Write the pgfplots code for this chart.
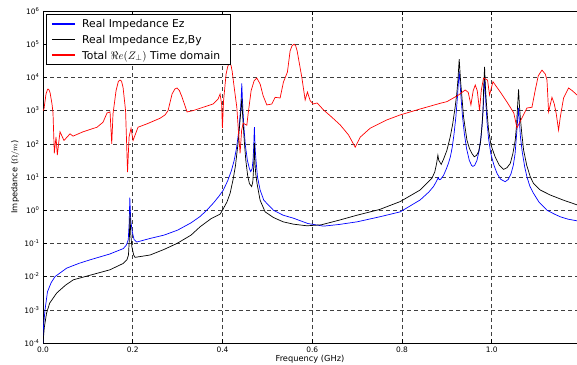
\documentclass[border=0pt]{standalone}
\usepackage{fontspec}
\setmainfont{DejaVu Sans}
\usepackage{pgfplots}
\pgfplotsset{compat=1.18}
\definecolor{lgblue}{RGB}{0,0,255}
\begin{document}
\begin{tikzpicture}
\begin{axis}[
  scale only axis, width=534bp, height=332bp,
  xmin=0, xmax=1.19, ymin=1e-4, ymax=1e6,
  ymode=log, log basis y=10,
  ytickten={-4,-3,...,6},
  yticklabel={10\textsuperscript{\pgfmathparse{int(round(\tick))}\pgfmathresult}},
  xtick={0,0.2,0.4,0.6,0.8,1.0},
  xticklabels={0.0,0.2,0.4,0.6,0.8,1.0},
  axis x line*=box, axis y line*=left,
  tick align=inside,
  tick style={black, line width=0.6bp},
  major tick length=4bp, minor tick length=2bp,
  axis line style={line width=0.8bp},
  grid=major,
  major grid style={black!75, line width=0.6bp, dash pattern=on 4bp off 3bp},
  tick label style={font=\fontsize{7.5}{9}\selectfont},
  label style={font=\fontsize{8.3}{10}\selectfont},
  xlabel={Frequency (GHz)},
  ylabel={Impedance ($\Omega/m$)},
  xlabel style={yshift=4bp},
  ylabel style={yshift=-2bp},
]
\addplot[lgblue, line width=0.7bp] coordinates {
(0,1e-4) (0.001,3e-4) (0.0045,1e-3) (0.01,3.5e-3) (0.018,6.5e-3) (0.0268,0.01) (0.0528,0.018)
(0.08,0.025) (0.1048,0.032) (0.149,0.048) (0.179,0.07) (0.186,0.09) (0.190,0.13) (0.1920,0.4)
(0.1935,2.4) (0.1955,0.5) (0.199,0.22) (0.203,0.13) (0.209,0.11) (0.2386,0.141)
(0.27,0.178) (0.30,0.251) (0.33,0.417) (0.35,0.646) (0.365,1.0) (0.38,1.66) (0.392,2.63)
(0.402,4.07) (0.412,7.94) (0.420,15.8) (0.426,31.6) (0.431,70.8) (0.435,178) (0.438,447)
(0.440,1000) (0.4415,2240) (0.443,6610) (0.4445,1995) (0.446,794) (0.448,282) (0.451,89.1)
(0.4555,31.6) (0.46,17.8) (0.463,14.5) (0.466,17.8) (0.468,31.6) (0.4695,79.4) (0.4705,200)
(0.4711,316) (0.4718,158) (0.473,63.1) (0.475,28.2) (0.478,10) (0.4838,4.07) (0.492,2.0)
(0.5135,1.0) (0.535,0.708) (0.558,0.575) (0.59,0.398) (0.625,0.331) (0.66,0.372) (0.7,0.447)
(0.75,0.631) (0.796,0.891) (0.8406,2.04) (0.86,3.55) (0.870,5.13) (0.876,7.08) (0.879,8.51)
(0.881,9.55) (0.883,8.32) (0.886,8.51) (0.8926,11.2) (0.899,17.8) (0.9037,26.3) (0.908,41.7)
(0.912,79.4) (0.916,200) (0.92,631) (0.9235,2510) (0.926,7940) (0.9275,15100) (0.929,7940)
(0.9315,2510) (0.935,631) (0.939,200) (0.944,70.8) (0.95,31.6) (0.955,22.4) (0.958,20.9)
(0.962,22.4) (0.967,31.6) (0.972,63.1) (0.976,158) (0.979,447) (0.9815,1585) (0.9835,6310)
(0.984,12000) (0.985,6310) (0.987,1585) (0.9895,447) (0.993,141) (0.998,50.1) (1.005,22.4)
(1.012,12.6) (1.02,8.51) (1.03,7.24) (1.037,8.51) (1.043,12.6) (1.048,22.4) (1.052,50.1)
(1.0555,200) (1.058,631) (1.0598,1200) (1.0615,501) (1.064,158) (1.068,56.2) (1.0735,20)
(1.0785,10) (1.085,5.25) (1.093,3.24) (1.105,1.78) (1.123,1.0) (1.14,0.759) (1.153,0.631)
(1.17,0.537) (1.19,0.479)
};
\addplot[black, line width=0.7bp] coordinates {
(0,1e-4) (0.003,3e-4) (0.008,8e-4) (0.015,1.6e-3) (0.0305,3.2e-3) (0.05,5.5e-3) (0.0676,8e-3)
(0.1048,0.011) (0.149,0.016) (0.179,0.025) (0.187,0.032) (0.1905,0.045) (0.1925,0.15)
(0.1938,0.8) (0.1955,0.2) (0.198,0.08) (0.202,0.045) (0.205,0.038) (0.2386,0.0447)
(0.27,0.0661) (0.2988,0.1) (0.33,0.178) (0.35,0.316) (0.375,0.562) (0.3946,0.759) (0.40,1.0)
(0.41,1.78) (0.417,3.24) (0.424,8.91) (0.429,22.4) (0.432,51.3) (0.435,112) (0.4375,282)
(0.4392,525) (0.441,1000) (0.443,2340) (0.4445,891) (0.4466,316) (0.449,100) (0.452,31.6)
(0.456,11.2) (0.46,6.31) (0.465,5.13) (0.4675,7.08) (0.4695,20) (0.4711,105) (0.4725,25.1)
(0.474,12.6) (0.477,6.31) (0.4838,2.0) (0.495,0.891) (0.5135,0.603) (0.535,0.447) (0.558,0.380)
(0.588,0.339) (0.62,0.363) (0.66,0.501) (0.7,0.708) (0.75,1.05) (0.796,1.82) (0.8406,4.07)
(0.8666,9.12) (0.873,14.1) (0.877,25.1) (0.880,45.7) (0.882,31.6) (0.8874,24) (0.893,35.5)
(0.9,63.1) (0.9075,162) (0.913,398) (0.9186,1318) (0.922,3162) (0.9245,7943) (0.9275,35480)
(0.9305,7943) (0.933,3162) (0.9371,661) (0.9447,129) (0.9505,70.8) (0.9558,51.3) (0.961,40.7)
(0.966,44.7) (0.9706,57.5) (0.975,112) (0.9781,324) (0.9805,1000) (0.9818,4170) (0.984,20900)
(0.9855,6310) (0.9877,1995) (0.9905,631) (0.9929,263) (0.9985,89.1) (1.0078,39.8) (1.017,22.4)
(1.0264,17) (1.034,19.1) (1.0413,25.7) (1.047,50.1) (1.0524,129) (1.0555,398) (1.0575,1318)
(1.0598,4365) (1.0615,1585) (1.0635,661) (1.067,200) (1.071,64.6) (1.078,22.4) (1.0858,10.2)
(1.093,6.46) (1.108,4.07) (1.13,2.88) (1.16,2.0) (1.19,1.45)
};
\addplot[red, line width=0.7bp] coordinates {
(0.0,1000) (0.0022,1120) (0.0067,3160) (0.0099,4300) (0.0111,4470) (0.0134,4200)
(0.0156,3550) (0.0201,1580) (0.0223,850) (0.0252,52) (0.029,160) (0.0319,46)
(0.0379,230) (0.0468,126) (0.0602,200) (0.0669,170) (0.0892,230) (0.1204,316)
(0.1338,447) (0.1427,850) (0.1494,912) (0.1532,100) (0.156,794) (0.1628,3980)
(0.1680,7600) (0.1717,8320) (0.1750,7700) (0.1784,5010) (0.184,1000) (0.1884,14)
(0.1918,160) (0.1962,295) (0.2007,126) (0.2118,316) (0.2319,400) (0.2609,589)
(0.272,741) (0.2787,1000) (0.2876,3160) (0.2940,4500) (0.2988,4790) (0.304,4000)
(0.31,2510) (0.3211,912) (0.3344,1000) (0.3567,1260) (0.379,1580) (0.3902,2240)
(0.3946,3160) (0.398,1580) (0.3998,295) (0.4024,2000) (0.408,12600) (0.4120,22000)
(0.4158,26900) (0.4190,23000) (0.4214,15800) (0.427,3980) (0.4319,1260) (0.4359,200)
(0.4392,52) (0.4426,251) (0.4459,417) (0.4542,363) (0.4571,794) (0.4638,3980)
(0.4705,7940) (0.4765,9550) (0.4839,6310) (0.4905,2820) (0.4988,1480) (0.5099,1580)
(0.5173,2510) (0.5284,2400) (0.5358,7240) (0.5447,14500) (0.5507,63100) (0.5550,90000)
(0.5596,100000) (0.5630,90000) (0.5663,63100) (0.5768,10000) (0.5842,2090) (0.5893,3630)
(0.5953,2000) (0.602,1580) (0.6109,1700) (0.625,1050) (0.6437,631) (0.6622,372)
(0.6807,186) (0.6957,79) (0.7068,158) (0.7291,295) (0.7663,525) (0.796,741)
(0.8406,1120) (0.8852,1660) (0.9001,1860) (0.926,2950) (0.9409,4170) (0.9476,3550)
(0.9536,1480) (0.9587,3980) (0.9632,5890) (0.9677,3980) (0.9728,1000) (0.9766,3980)
(0.9817,9550) (0.9906,8320) (0.9951,2950) (1.0027,7410) (1.019,3630) (1.0339,1820)
(1.0491,851) (1.0562,302) (1.0673,603) (1.0785,1200) (1.0896,1260) (1.097,4170)
(1.1037,11200) (1.1119,16600) (1.1193,12600) (1.1231,8320) (1.1267,912) (1.1342,2510)
(1.1394,1580) (1.1438,794) (1.1489,257) (1.1527,631) (1.1601,2400) (1.1712,4790)
(1.1795,3980) (1.19,2950)
};
\draw[black, fill=white, line width=0.6bp] (axis description cs:0.0056,0.991) rectangle (axis description cs:0.3502,0.8404);
\draw[lgblue, line width=1.1bp] (axis description cs:0.01685,0.9608) -- (axis description cs:0.0599,0.9608);
\draw[black, line width=1.1bp] (axis description cs:0.01685,0.9142) -- (axis description cs:0.0599,0.9142);
\draw[red, line width=1.1bp] (axis description cs:0.01685,0.8675) -- (axis description cs:0.0599,0.8675);
\node[anchor=base west, inner sep=0pt, font=\fontsize{10.8}{12.5}\selectfont] at (axis description cs:0.073,0.9488) {Real Impedance Ez};
\node[anchor=base west, inner sep=0pt, font=\fontsize{10.8}{12.5}\selectfont] at (axis description cs:0.073,0.9021) {Real Impedance Ez,By};
\node[anchor=base west, inner sep=0pt, font=\fontsize{10.8}{12.5}\selectfont] at (axis description cs:0.073,0.8554) {Total $\Re e(Z_\perp)$ Time domain};
\end{axis}
\pgfresetboundingbox
\path[use as bounding box] ([xshift=-43bp,yshift=-22bp]current axis.south west) rectangle ([yshift=11bp]current axis.north east);
\end{tikzpicture}
\end{document}
